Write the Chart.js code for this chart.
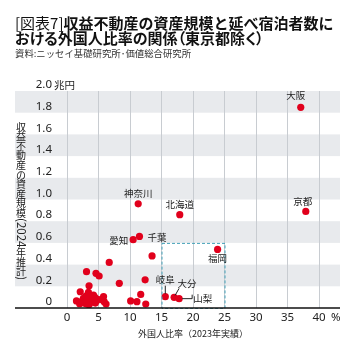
<!DOCTYPE html>
<html lang="ja">
<head>
<meta charset="utf-8">
<script src="https://cdn.jsdelivr.net/npm/chart.js@4.4.1/dist/chart.umd.min.js"></script>
<style>
  html, body { margin: 0; padding: 0; background: #fff; }
  #wrap { position: relative; width: 359px; height: 352px; overflow: hidden; }
  #chart { position: absolute; left: 0; top: 0; }
  .title {
    position: absolute; left: 15px; top: 15px;
    font-family: "Noto Sans CJK JP"; font-size: 15px; line-height: 15px;
    font-weight: 700; color: #111; white-space: nowrap;
  }
  .title .tag { font-weight: 400; }
  .title .l2 { font-feature-settings: "palt"; }
  .source {
    position: absolute; left: 15px; top: 48px;
    font-family: "Noto Sans CJK JP"; font-size: 9.4px; line-height: 11px;
    color: #333; white-space: nowrap;
  }
</style>
</head>
<body>
<div id="wrap">
  <canvas id="chart" width="359" height="352"></canvas>
  <div class="title"><span class="tag">[図表7]</span>収益不動産の資産規模と延べ宿泊者数に<br><span class="l2">おける外国人比率の関係（東京都除く）</span></div>
  <div class="source">資料:ニッセイ基礎研究所･価値総合研究所</div>
</div>
<script>
// 名前付きの都道府県
const labelNames  = ['大阪', '京都', '神奈川', '北海道', '千葉', '愛知', '福岡', '岐阜', '大分', '山梨'];
const labelRatio  = [37.1, 37.9, 11.3, 17.9, 11.5, 10.5, 23.9, 15.6, 17.0, 17.8];
const labelAssets = [1.85, 0.89, 0.96, 0.86, 0.66, 0.63, 0.54, 0.104, 0.098, 0.086];

// その他の道府県
const otherRatio  = [13.5, 6.7, 3.1, 4.6, 5.1, 12.4, 8.3, 3.5, 2.1, 3.4, 4.2, 4.4, 5.8, 11.7, 1.5, 2.3, 2.9, 3.7,
                     3.1, 5.9, 6.2, 10.1, 11.1, 12.5, 4.7, 3.3, 2.6, 4.0, 3.8, 2.7, 4.9, 3.5, 2.0, 5.6, 4.5, 3.0];
const otherAssets = [0.48, 0.42, 0.335, 0.32, 0.295, 0.26, 0.227, 0.205, 0.15, 0.145, 0.12, 0.10, 0.105, 0.125, 0.065, 0.058, 0.075, 0.067,
                     0.037, 0.058, 0.037, 0.065, 0.058, 0.037, 0.067, 0.10, 0.09, 0.085, 0.05, 0.045, 0.08, 0.03, 0.04, 0.075, 0.045, 0.11];

const xTicks = [0, 5, 10, 15, 20, 25, 30, 35, 40];
const yTicks = [0, 0.2, 0.4, 0.6, 0.8, 1.0, 1.2, 1.4, 1.6, 1.8, 2.0];
const focusBox = { x: [15, 25], y: [0, 0.6] };

const xTitle = '外国人比率（2023年実績）';
const yTitle = '収益不動産の資産規模(2024年推計)';
const yUnit = '兆円';
const xUnit = '%';

const dotColor = '#e1001c';
const textColor = '#222';

const labelPlace = {
  '大阪':   { dx: -5, dy: -12, align: 'center' },
  '京都':   { dx: -3, dy: -10, align: 'center' },
  '神奈川': { dx: 0, dy: -10, align: 'center' },
  '北海道': { dx: 0, dy: -10, align: 'center' },
  '千葉':   { dx: 8, dy: 1, align: 'left' },
  '愛知':   { dx: -5, dy: 1, align: 'right' },
  '福岡':   { dx: 0, dy: 9, align: 'center' },
  '岐阜':   { dx: 0, dy: -17, align: 'center', lead: [[0, -3], [0, -11]] },
  '大分':   { dx: 13, dy: -14, align: 'center', lead: [[1, -2], [5, -9]] },
  '山梨':   { dx: 14, dy: 0, align: 'left', lead: [[3, 0], [13, 0], [13, -4]] }
};

const toPoints = (xs, ys) => xs.map((v, i) => ({ x: v, y: ys[i] }));

// 縦書き: 漢字は正立、英数字と括弧は横倒し
function drawVertical(ctx, text, cx, top) {
  const runs = text.match(/[0-9()]+|[^0-9()]+/g);
  let y = top;
  ctx.textBaseline = 'middle';
  runs.forEach(run => {
    if (/^[0-9()]/.test(run)) {
      ctx.font = '11.5px "Noto Sans CJK JP"';
      const w = ctx.measureText(run).width;
      ctx.save();
      ctx.translate(cx, y);
      ctx.rotate(Math.PI / 2);
      ctx.textAlign = 'left';
      ctx.fillText(run, 0, 0);
      ctx.restore();
      y += w;
    } else {
      ctx.font = '10px "Noto Sans CJK JP"';
      ctx.textAlign = 'center';
      for (const ch of run) {
        ctx.fillText(ch, cx, y + 4.8);
        y += 9.6;
      }
    }
  });
}

const decor = {
  id: 'decor',
  beforeDraw(chart) {
    const { ctx, chartArea, scales: { y } } = chart;
    ctx.save();
    ctx.fillStyle = '#e8eaed';
    for (let i = 1; i < yTicks.length - 1; i += 2) {
      const top = y.getPixelForValue(yTicks[i + 1]);
      const bot = y.getPixelForValue(yTicks[i]);
      ctx.fillRect(15, top, chartArea.right - 15, bot - top);
    }
    ctx.restore();
  },
  afterDatasetsDraw(chart) {
    const { ctx, chartArea, scales: { x, y } } = chart;
    ctx.save();

    // 注目範囲
    ctx.strokeStyle = '#45a1b8';
    ctx.lineWidth = 1;
    ctx.setLineDash([3, 2]);
    const bx0 = x.getPixelForValue(focusBox.x[0]), bx1 = x.getPixelForValue(focusBox.x[1]);
    const by0 = y.getPixelForValue(focusBox.y[1]), by1 = y.getPixelForValue(focusBox.y[0]);
    ctx.strokeRect(bx0 + 0.5, by0 + 0.5, bx1 - bx0, by1 - by0);
    ctx.setLineDash([]);

    // 横軸の線
    ctx.strokeStyle = '#111';
    ctx.lineWidth = 1.5;
    ctx.beginPath();
    ctx.moveTo(15, chartArea.bottom);
    ctx.lineTo(chartArea.right, chartArea.bottom);
    ctx.stroke();

    // 都道府県名
    ctx.fillStyle = textColor;
    ctx.strokeStyle = '#222';
    ctx.lineWidth = 1;
    ctx.font = '9.5px "Noto Sans CJK JP"';
    ctx.textBaseline = 'middle';
    const meta = chart.getDatasetMeta(0);
    labelNames.forEach((name, i) => {
      const p = meta.data[i];
      const s = labelPlace[name];
      ctx.textAlign = s.align;
      ctx.fillText(name, p.x + s.dx, p.y + s.dy);
      if (s.lead) {
        ctx.beginPath();
        s.lead.forEach(([lx, ly], k) => {
          if (k === 0) ctx.moveTo(p.x + lx, p.y + ly);
          else ctx.lineTo(p.x + lx, p.y + ly);
        });
        ctx.stroke();
      }
    });

    // 単位
    ctx.font = '10.5px "Noto Sans CJK JP"';
    ctx.textAlign = 'left';
    ctx.fillText(yUnit, 54, y.getPixelForValue(yTicks[yTicks.length - 1]) - 6);
    ctx.font = '11.5px "Noto Sans"';
    ctx.fillText(xUnit, x.getPixelForValue(xTicks[xTicks.length - 1]) + 12, chartArea.bottom + 10);

    // 軸タイトル
    ctx.font = '9px "Noto Sans CJK JP"';
    ctx.textAlign = 'center';
    ctx.fillText(xTitle, x.getPixelForValue(20), 334);
    drawVertical(ctx, yTitle, 21, 122);

    ctx.restore();
  }
};

const ctx = document.getElementById('chart').getContext('2d');
const chart = new Chart(ctx, {
  type: 'scatter',
  data: {
    datasets: [{
      data: toPoints(labelRatio, labelAssets),
      backgroundColor: dotColor,
      pointRadius: 3.6,
      borderWidth: 0
    }, {
      data: toPoints(otherRatio, otherAssets),
      backgroundColor: dotColor,
      pointRadius: 3.6,
      borderWidth: 0
    }]
  },
  options: {
    responsive: false,
    animation: false,
    layout: { padding: { top: 91, right: 19, bottom: 0, left: 0 } },
    plugins: { legend: { display: false }, tooltip: { enabled: false } },
    scales: {
      x: {
        type: 'linear',
        min: -1.746,
        max: 43.33,
        afterBuildTicks: (scale) => { scale.ticks = xTicks.map(v => ({ value: v })); },
        afterFit: (scale) => { scale.height = 44; },
        grid: { color: '#c8ccd1', lineWidth: 1, drawTicks: false },
        border: { display: false },
        ticks: {
          padding: 3,
          color: textColor,
          font: { family: 'Noto Sans', size: 11.5 },
          callback: (v) => String(v)
        }
      },
      y: {
        type: 'linear',
        min: 0,
        max: 2,
        afterBuildTicks: (scale) => { scale.ticks = yTicks.map(v => ({ value: v })); },
        afterFit: (scale) => { scale.width = 56; },
        grid: { display: false, drawTicks: false },
        border: { display: false },
        ticks: {
          padding: 4,
          labelOffset: -6,
          color: textColor,
          font: { family: 'Noto Sans', size: 11.5 },
          callback: (v) => (v === 0 ? '0' : v.toFixed(1))
        }
      }
    }
  },
  plugins: [decor]
});
</script>
</body>
</html>
